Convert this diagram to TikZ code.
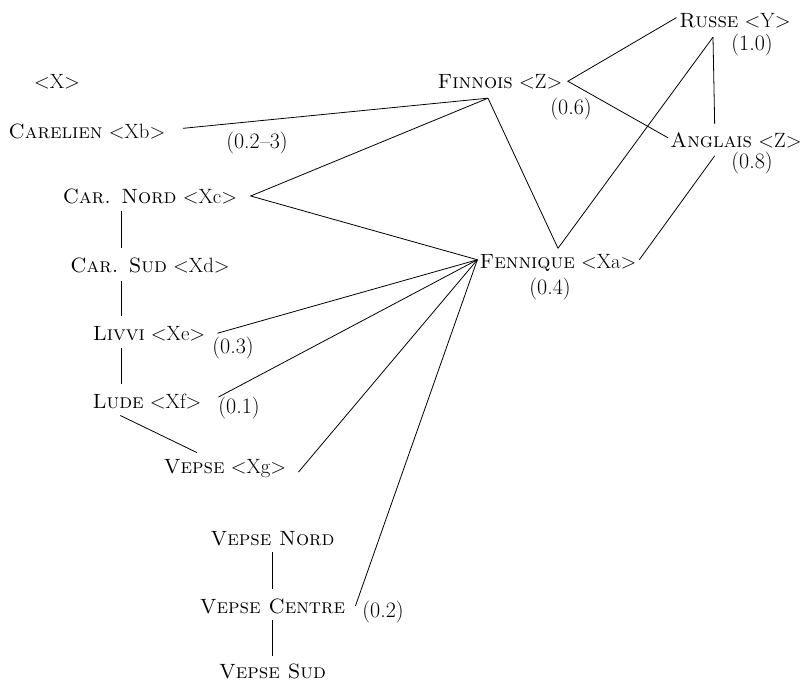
\documentclass[tikz,border=0pt]{standalone}
\usepackage{tikz}
\tikzset{
  lang/.style={inner sep=0pt,anchor=base,font=\fontsize{15.5}{18}\selectfont},
  weight/.style={inner sep=0pt,font=\fontsize{16.5}{20}\selectfont},
  link/.style={line width=0.6pt}
}

\begin{document}
\begin{tikzpicture}[x=0.75pt,y=-0.75pt]
  \useasboundingbox (0,0) rectangle (804,682);
  % left column
  \node[lang] (x) at (57,88) {<X>};
  \node[lang] (carelien) at (87,138) {\textsc{Carelien} <Xb>};
  \node[lang] (carnord) at (150,203) {\textsc{Car. Nord} <Xc>};
  \node[lang] (carsud) at (150,272) {\textsc{Car. Sud} <Xd>};
  \node[lang] (livvi) at (149,340) {\textsc{Livvi} <Xe>};
  \node[lang] (lude) at (147,408) {\textsc{Lude} <Xf>};
  \node[lang] (vepse) at (225,473) {\textsc{Vepse} <Xg>};
  \node[lang] (vnord) at (272.5,545) {\textsc{Vepse Nord}};
  \node[lang] (vcentre) at (272.5,613) {\textsc{Vepse Centre}};
  \node[lang] (vsud) at (272.5,678) {\textsc{Vepse Sud}};
  % right part
  \node[lang] (finnois) at (500,88) {\textsc{Finnois} <Z>};
  \node[lang] (russe) at (735,27) {\textsc{Russe} <Y>};
  \node[lang] (anglais) at (736,147) {\textsc{Anglais} <Z>};
  \node[lang] (fennique) at (558,268) {\textsc{Fennique} <Xa>};
  % weights
  \node[weight] (wcar) at (257,143) {(0.2--3)};
  \node[weight] (wrus) at (752,45) {(1.0)};
  \node[weight] (wfin) at (571,109) {(0.6)};
  \node[weight] (wang) at (752,163) {(0.8)};
  \node[weight] (wfen) at (550,289) {(0.4)};
  \node[weight] (wliv) at (233,348) {(0.3)};
  \node[weight] (wlud) at (239,408) {(0.1)};
  \node[weight] (wvc) at (383,612) {(0.2)};

  % finnois links
  \draw[link] ([xshift=13pt,yshift=2pt]carelien.east) -- ([xshift=-9pt,yshift=-7pt]finnois.south);
  \draw[link] ([xshift=-9pt,yshift=-7pt]finnois.south) -- ([xshift=10pt]carnord.east)
    -- ([xshift=-1.5pt,yshift=2pt]fennique.west);
  \draw[link] ([xshift=-9pt,yshift=-7pt]finnois.south) -- ([yshift=4pt]fennique.north);
  \draw[link] ([xshift=-2pt,yshift=2pt]russe.west) -- ([xshift=4pt]finnois.east)
    -- ([xshift=-1.5pt,yshift=1.5pt]anglais.west);
  % russe / anglais links
  \draw[link] ([xshift=-16.5pt,yshift=-7pt]russe.south) -- ([xshift=-16pt,yshift=6pt]anglais.north);
  \draw[link] ([xshift=-16.5pt,yshift=-7pt]russe.south) -- ([yshift=4pt]fennique.north);
  \draw[link] ([xshift=-16pt,yshift=-6pt]anglais.south) -- ([xshift=2pt,yshift=2pt]fennique.east);
  % fennique fan
  \draw[link] ([xshift=9pt]livvi.east) -- ([xshift=-1.5pt,yshift=2pt]fennique.west);
  \draw[link] ([xshift=12.5pt,yshift=3pt]lude.east) -- ([xshift=-1.5pt,yshift=2pt]fennique.west);
  \draw[link] ([xshift=9pt,yshift=-3pt]vepse.east) -- ([xshift=-1.5pt,yshift=2pt]fennique.west);
  \draw[link] ([xshift=7.5pt]vcentre.east) -- ([xshift=-1.5pt,yshift=2pt]fennique.west);
  % chains
  \draw[link] ([xshift=-21.75pt,yshift=-5pt]carnord.south) -- ([xshift=-21.75pt,yshift=7pt]carsud.north);
  \draw[link] ([xshift=-21.75pt,yshift=-6pt]carsud.south) -- ([xshift=-21pt,yshift=7pt]livvi.north);
  \draw[link] ([xshift=-21pt,yshift=-5pt]livvi.south) -- ([xshift=-19.5pt,yshift=7pt]lude.north);
  \draw[link] ([xshift=-20pt,yshift=-5pt]lude.south) -- ([xshift=-21pt,yshift=4.5pt]vepse.north);
  \draw[link] ([yshift=-5pt]vnord.south) -- ([yshift=7pt]vcentre.north);
  \draw[link] ([yshift=-5pt]vcentre.south) -- ([yshift=5.5pt]vsud.north);
\end{tikzpicture}
\end{document}
